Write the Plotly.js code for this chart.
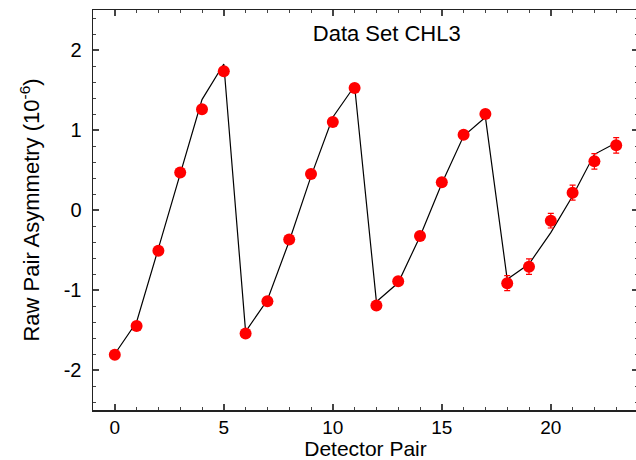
<!DOCTYPE html>
<html>
<head>
<meta charset="utf-8">
<script src="https://cdn.plot.ly/plotly-3.0.1.min.js"></script>
<style>
html, body { margin: 0; padding: 0; overflow: hidden; background: #fff; }
#chart { width: 640px; height: 460px; }
</style>
</head>
<body>
<div id="chart"></div>
<script>
// Detector pair index
const detectorPair = [0,1,2,3,4,5,6,7,8,9,10,11,12,13,14,15,16,17,18,19,20,21,22,23];
// Measured raw pair asymmetry (1e-6)
const asymmetry = [-1.81,-1.45,-0.51,0.47,1.26,1.735,-1.545,-1.14,-0.37,0.45,1.10,1.525,
                   -1.195,-0.89,-0.325,0.346,0.94,1.20,-0.915,-0.708,-0.133,0.217,0.608,0.808];
// Uncertainties
const asymErr = [0.045,0.045,0.045,0.045,0.045,0.045,0.045,0.045,0.045,0.045,0.045,0.045,
                 0.045,0.045,0.045,0.045,0.045,0.045,0.094,0.096,0.092,0.094,0.096,0.096];
// Fit / model curve
const fitValues = [-1.80,-1.40,-0.48,0.46,1.38,1.825,-1.52,-1.125,-0.39,0.42,1.16,1.55,
                   -1.146,-0.91,-0.33,0.33,0.925,1.16,-0.867,-0.675,-0.283,0.175,0.696,0.84];
// Tick labels
const xTickVals = [0, 5, 10, 15, 20];
const xTickText = ['0', '5', '10', '15', '20'];
const yTickVals = [-2, -1, 0, 1, 2];
const yTickText = ['-2', '-1', '0', '1', '2'];

const font = "Liberation Sans, Arial, Helvetica, sans-serif";

const traces = [
  {
    x: detectorPair, y: fitValues, type: 'scatter', mode: 'lines',
    line: { color: '#000', width: 1.2 }, hoverinfo: 'skip', showlegend: false
  },
  {
    x: detectorPair, y: asymmetry, type: 'scatter', mode: 'markers',
    marker: { color: '#ff0000', size: 12 },
    error_y: { type: 'data', array: asymErr, visible: true, color: '#ff0000', thickness: 1.2, width: 3 },
    showlegend: false
  }
];

const axisCommon = {
  showline: true, linecolor: '#222', linewidth: 1.5, mirror: 'allticks',
  ticks: 'inside', ticklen: 6, tickwidth: 1.5, tickcolor: '#444',
  showgrid: false, zeroline: false,
  tickfont: { family: font, size: 20, color: '#000' }
};

const layout = {
  width: 640, height: 460,
  margin: { l: 93, r: 2, t: 10, b: 50 },
  paper_bgcolor: '#fff', plot_bgcolor: '#fff',
  font: { family: font, color: '#000' },
  title: {
    text: 'Data Set CHL3', font: { family: font, size: 22, color: '#000' },
    xref: 'paper', yref: 'paper', x: 0.539, y: 0.9425, xanchor: 'center', yanchor: 'middle'
  },
  xaxis: Object.assign({}, axisCommon, {
    range: [-1, 24], tickmode: 'array', tickvals: xTickVals, ticktext: xTickText,
    tickfont: { family: font, size: 19, color: '#000' },
    minor: { dtick: 1, tick0: 0, ticklen: 3, tickwidth: 1, tickcolor: '#444', ticks: 'inside' },
    title: { text: 'Detector Pair', font: { family: font, size: 21, color: '#000' }, standoff: 11 }
  }),
  yaxis: Object.assign({}, axisCommon, {
    range: [-2.5, 2.5], tickmode: 'array', tickvals: yTickVals, ticktext: yTickText,
    minor: { dtick: 0.2, tick0: 0, ticklen: 3, tickwidth: 1, tickcolor: '#444', ticks: 'inside' },
    ticklabelstandoff: 6,
    title: { text: 'Raw Pair Asymmetry (10<sup>-6</sup>)', font: { family: font, size: 22, color: '#000' }, standoff: 18 }
  })
};

Plotly.newPlot('chart', traces, layout, { staticPlot: true, displayModeBar: false });
</script>
</body>
</html>
